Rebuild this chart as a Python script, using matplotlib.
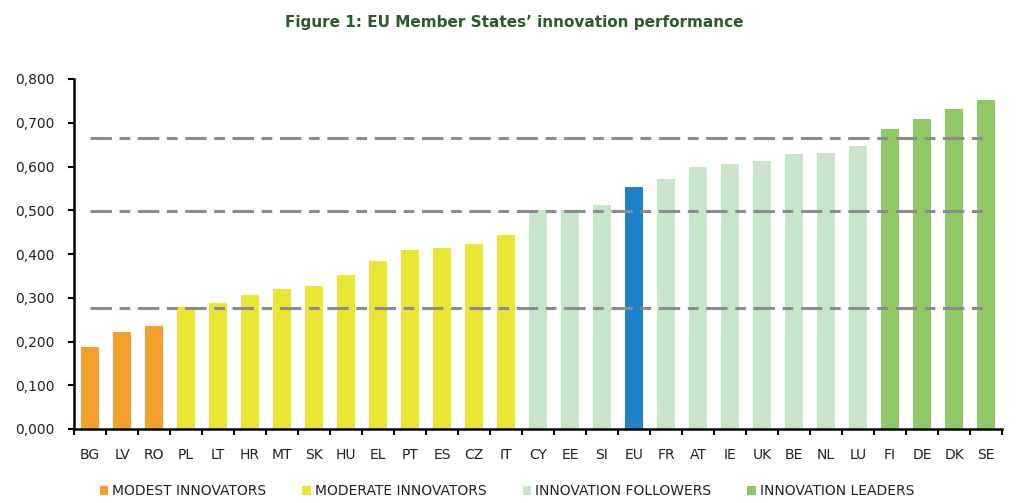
import matplotlib
matplotlib.use("Agg")
import matplotlib.pyplot as plt
from matplotlib.patches import Patch
from matplotlib.ticker import FuncFormatter, FixedLocator

countries = ["BG", "LV", "RO", "PL", "LT", "HR", "MT", "SK", "HU", "EL", "PT", "ES", "CZ", "IT",
             "CY", "EE", "SI", "EU", "FR", "AT", "IE", "UK", "BE", "NL", "LU",
             "FI", "DE", "DK", "SE"]
values = [0.188, 0.221, 0.236, 0.279, 0.289, 0.307, 0.320, 0.328, 0.351, 0.384, 0.410, 0.414, 0.422, 0.443,
          0.501, 0.501, 0.512, 0.554, 0.571, 0.600, 0.606, 0.613, 0.628, 0.630, 0.646,
          0.685, 0.709, 0.731, 0.751]
groups = ["modest"] * 3 + ["moderate"] * 11 + ["follower"] * 3 + ["eu"] + ["follower"] * 7 + ["leader"] * 4
thresholds = [0.277, 0.499, 0.665]
legend_labels = ["MODEST INNOVATORS", "MODERATE INNOVATORS", "INNOVATION FOLLOWERS", "INNOVATION LEADERS"]
title = "Figure 1: EU Member States\u2019 innovation performance"

colors = {"modest": "#f4a12b", "moderate": "#ebe631", "follower": "#c9e5c9",
          "eu": "#1f82c9", "leader": "#8ec966"}

fig = plt.figure(figsize=(10.28, 5.03), dpi=100)
ax = fig.add_axes([74 / 1028, 1 - 429 / 503, 928 / 1028, 350 / 503])

x = list(range(len(countries)))
ax.bar(x, values, width=0.57, color=[colors[g] for g in groups], zorder=2)

for t in thresholds:
    ax.plot([0, len(countries) - 1], [t, t], color="#8c8c90", lw=2.2,
            dashes=(7, 2.5, 3.5, 2.5), zorder=3, solid_capstyle="butt", dash_capstyle="butt")

ax.set_xlim(-0.5, len(countries) - 0.5)
ax.set_ylim(0, 0.8)
ax.set_yticks([i / 10 for i in range(9)])
ax.yaxis.set_major_formatter(FuncFormatter(lambda v, p: f"{v:.3f}".replace(".", ",")))

ax.set_xticks(x)
ax.set_xticklabels(countries)
ax.xaxis.set_minor_locator(FixedLocator([i - 0.5 for i in range(len(countries) + 1)]))
ax.tick_params(axis="x", which="major", length=0, pad=14, labelsize=10, labelcolor="#222222")
ax.tick_params(axis="x", which="minor", length=4, width=1.5, direction="out", color="black")
ax.tick_params(axis="y", length=4, width=1.5, pad=10, labelsize=10, labelcolor="#222222")

for s in ["top", "right"]:
    ax.spines[s].set_visible(False)
for s in ["left", "bottom"]:
    ax.spines[s].set_linewidth(1.8)
    ax.spines[s].set_color("black")

fig.text(514 / 1028, 1 - 22 / 503, title, ha="center", va="center", fontsize=11,
         fontweight="bold", color="#2b5b2b")

handles = [Patch(facecolor=colors[g]) for g in ["modest", "moderate", "follower", "leader"]]
fig.legend(handles, legend_labels, loc="center", bbox_to_anchor=(507 / 1028, 1 - 491 / 503),
           ncol=4, frameon=False, fontsize=10, handlelength=0.6, handleheight=0.6,
           handletextpad=0.3, columnspacing=2.6, labelcolor="#222222")

fig.savefig("out.png", dpi=100)
